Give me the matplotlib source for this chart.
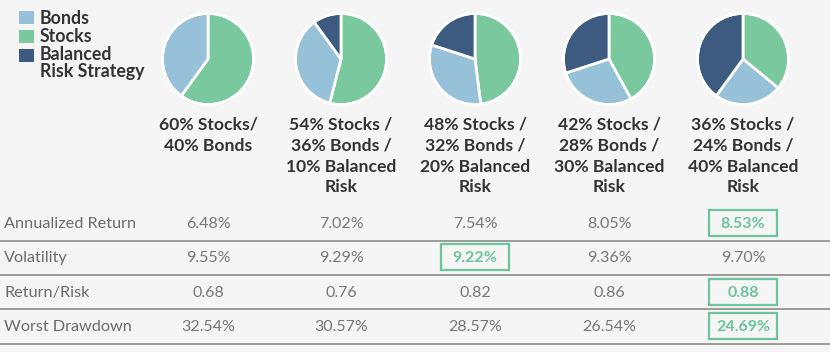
import matplotlib.pyplot as plt
from matplotlib.patches import Rectangle, Circle
import numpy as np

# data
stocks = [60, 54, 48, 42, 36]
bonds = [40, 36, 32, 28, 24]
balanced = [0, 10, 20, 30, 40]
headers = [
    ["60% Stocks/", "40% Bonds"],
    ["54% Stocks /", "36% Bonds /", "10% Balanced", "Risk"],
    ["48% Stocks /", "32% Bonds /", "20% Balanced", "Risk"],
    ["42% Stocks /", "28% Bonds /", "30% Balanced", "Risk"],
    ["36% Stocks /", "24% Bonds /", "40% Balanced", "Risk"],
]
row_names = ["Annualized Return", "Volatility", "Return/Risk", "Worst Drawdown"]
annual_return = [6.48, 7.02, 7.54, 8.05, 8.53]
volatility = [9.55, 9.29, 9.22, 9.36, 9.70]
return_risk = [0.68, 0.76, 0.82, 0.86, 0.88]
drawdown = [32.54, 30.57, 28.57, 26.54, 24.69]

c_bonds = "#97c0d9"
c_stocks = "#79c89e"
c_bal = "#3d5a80"
c_hi = "#6cc49a"
bg = "#f5f5f5"

plt.rcParams['font.family'] = ['Lato', 'DejaVu Sans']

W, H = 830, 352
fig = plt.figure(figsize=(W / 100, H / 100), dpi=100, facecolor=bg)
ax = fig.add_axes([0, 0, 1, 1])
ax.set_xlim(0, W)
ax.set_ylim(H, 0)
ax.axis('off')
ax.set_facecolor(bg)

col_x = [208, 341, 475, 609, 743]

# legend
leg = [("Bonds", c_bonds, 11), ("Stocks", c_stocks, 30), ("Balanced", c_bal, 49)]
for name, col, y in leg:
    ax.add_patch(Rectangle((19, y), 15, 13, color=col, lw=0))
for txt, yb in [("Bonds", 23.5), ("Stocks", 42), ("Balanced", 60.5), ("Risk Strategy", 77)]:
    ax.text(40, yb, txt, fontsize=12.8, fontweight='bold', color='#333333', va='baseline')

# pies
r_px = 47
cy = 59
for i, cx in enumerate(col_x):
    pax = fig.add_axes([(cx - r_px) / W, (H - cy - r_px) / H, 2 * r_px / W, 2 * r_px / H])
    vals, cols = [], []
    for v, c in [(stocks[i], c_stocks), (bonds[i], c_bonds), (balanced[i], c_bal)]:
        if v > 0:
            vals.append(v)
            cols.append(c)
    pax.pie(vals, colors=cols, startangle=90, counterclock=False, radius=0.97,
            wedgeprops=dict(edgecolor='white', linewidth=2))
    pax.add_patch(Circle((0, 0), 0.97, fill=False, edgecolor='white', lw=2))
    pax.set_xlim(-1, 1)
    pax.set_ylim(-1, 1)
    pax.set_aspect('equal')
    pax.axis('off')

    for j, line in enumerate(headers[i]):
        ax.text(cx, 130 + 20.8 * j, line, fontsize=12.6, fontweight='bold',
                color='#333333', ha='center', va='baseline')

# table
rows = [annual_return, volatility, return_risk, drawdown]
fmts = ["{:.2f}%", "{:.2f}%", "{:.2f}", "{:.2f}%"]
best = [int(np.argmax(annual_return)), int(np.argmin(volatility)),
        int(np.argmax(return_risk)), int(np.argmin(drawdown))]
for r, (name, vals) in enumerate(zip(row_names, rows)):
    base = 228 + 34.4 * r
    ax.text(4, base, name, fontsize=11.7, color='#6b6b6b', va='baseline')
    for i, v in enumerate(vals):
        txt = fmts[r].format(v)
        if i == best[r]:
            ax.add_patch(Rectangle((col_x[i] - 34, base - 18), 68, 26, fill=False,
                                   edgecolor=c_hi, lw=1.6))
            ax.text(col_x[i], base, txt, fontsize=11.5, fontweight='bold', color=c_hi,
                    ha='center', va='baseline')
        else:
            ax.text(col_x[i], base, txt, fontsize=11.5, color='#777777',
                    ha='center', va='baseline')
    ax.plot([0, W], [base + 12.5, base + 12.5], color='#8c8c8c', lw=1.2)

fig.savefig("out.png", dpi=100, facecolor=bg)
